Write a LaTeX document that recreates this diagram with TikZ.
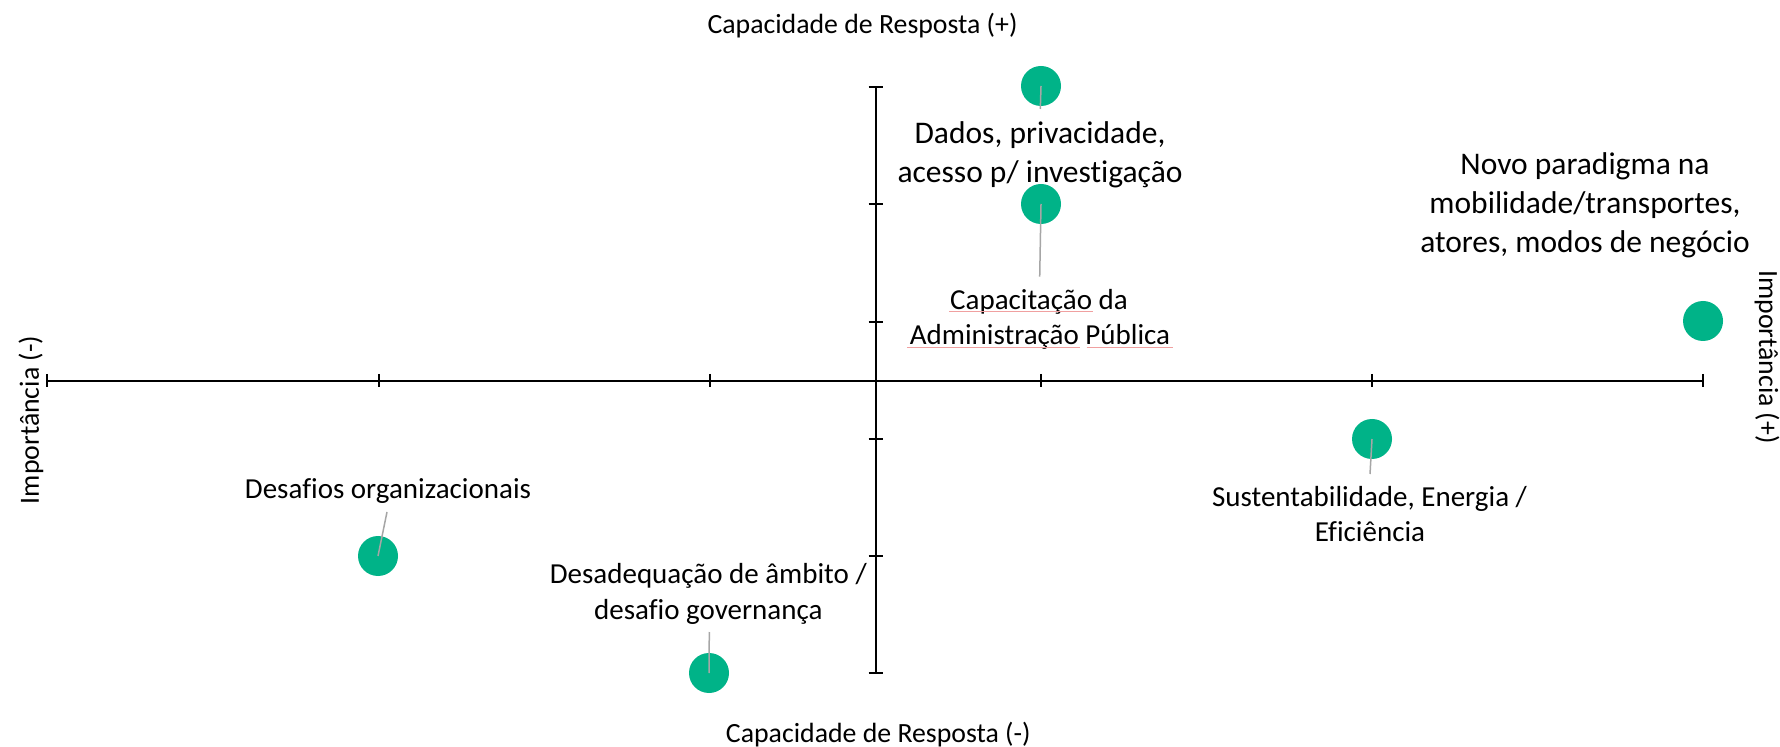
\documentclass[tikz,border=0pt]{standalone}
\usepackage{fontspec}
\setmainfont{Carlito}[Ligatures={NoCommon}]
\definecolor{dotgreen}{RGB}{0,179,136}
\definecolor{leadergray}{RGB}{166,166,166}
\definecolor{spellred}{RGB}{240,160,160}
\begin{document}
\begin{tikzpicture}[x=0.5pt,y=-0.5pt,
  axis/.style={line width=1pt, draw=black},
  dot/.style={circle, fill=dotgreen, minimum size=20pt, inner sep=0pt},
  leader/.style={draw=leadergray, line width=0.75pt},
  big/.style={font=\fontsize{15.75}{19}\selectfont, anchor=base, inner sep=0pt},
  small/.style={font=\fontsize{14.5}{17.5}\selectfont, anchor=base, inner sep=0pt},
  axlabel/.style={font=\fontsize{13.9}{16.7}\selectfont, anchor=base, inner sep=0pt},
  spell/.style={draw=spellred, line width=0.5pt}]
\useasboundingbox (0,0) rectangle (1780,747);
\fill[white] (0,0) rectangle (1780,747);

% axes
\coordinate (xl) at (47.3,380.7);
\coordinate (xr) at (1703.3,380.7);
\coordinate (yt) at (875.5,86.7);
\coordinate (yb) at (875.5,673.3);
\draw[axis] (xl) -- (xr);
\draw[axis] (yt) -- (yb);
\foreach \x in {47.3,378.5,709.7,1041,1372,1703.3}
  \draw[axis] (\x,374) -- (\x,387.4);
\foreach \y in {86.7,204,321.7,439,556,673.3}
  \draw[axis] (868.5,\y) -- (882.5,\y);

% axis labels
\node[axlabel] (capplus) at (862.5,34) {Capacidade de Resposta (+)};
\node[axlabel] (capminus) at (878.3,742) {Capacidade de Resposta (-)};
\node[axlabel, rotate=90] (impneg) at (39,420) {Importância (-)};
\node[axlabel, rotate=-90] (imppos) at (1759,357) {Importância (+)};

% dots
\node[dot] (dDados) at (1041,86) {};
\node[dot] (dCap) at (1041,204) {};
\node[dot] (dNovo) at (1703,321) {};
\node[dot] (dSust) at (1372,439) {};
\node[dot] (dDesaf) at (378,556) {};
\node[dot] (dDesad) at (709,673) {};

% leader ends
\coordinate (lDados) at (1040.3,109);
\coordinate (lCap) at (1039.7,276.7);
\coordinate (lSust) at (1370,474);
\coordinate (lDesaf) at (387,512);
\coordinate (lDesad) at (709.3,632);

\draw[leader] (dDados.center) -- (lDados);
\draw[leader] (dCap.center) -- (lCap);
\draw[leader] (dSust.center) -- (lSust);
\draw[leader] (dDesaf.center) -- (lDesaf);
\draw[leader] (dDesad.center) -- (lDesad);

% labels
\node[big] (tDados1) at (1040,144) {Dados, privacidade,};
\node[big] (tDados2) at (1040,183) {acesso p/ investigação};
\node[big] (tNovo1) at (1585,175) {Novo paradigma na};
\node[big] (tNovo2) at (1585,214) {mobilidade/transportes,};
\node[big] (tNovo3) at (1585,253) {atores, modos de negócio};
\node[small] (tCap1) at (1039,309.3) {Capacitação da};
\node[small] (tCap2) at (1040,345) {Administração Pública};
\node[small] (tSust1) at (1369.5,506.7) {Sustentabilidade, Energia /};
\node[small] (tSust2) at (1370,541) {Eficiência};
\node[small] (tDesaf) at (388,499) {Desafios organizacionais};
\node[small] (tDesad1) at (708.3,583.3) {Desadequação de âmbito /};
\node[small] (tDesad2) at (708.3,619.3) {desafio governança};

% spell-check underlines
\draw[spell] (949,312) -- (1093,312);
\draw[spell] (907.3,347.5) -- (1080,347.5);
\draw[spell] (1086.7,347.5) -- (1172.7,347.5);
\end{tikzpicture}
\end{document}
